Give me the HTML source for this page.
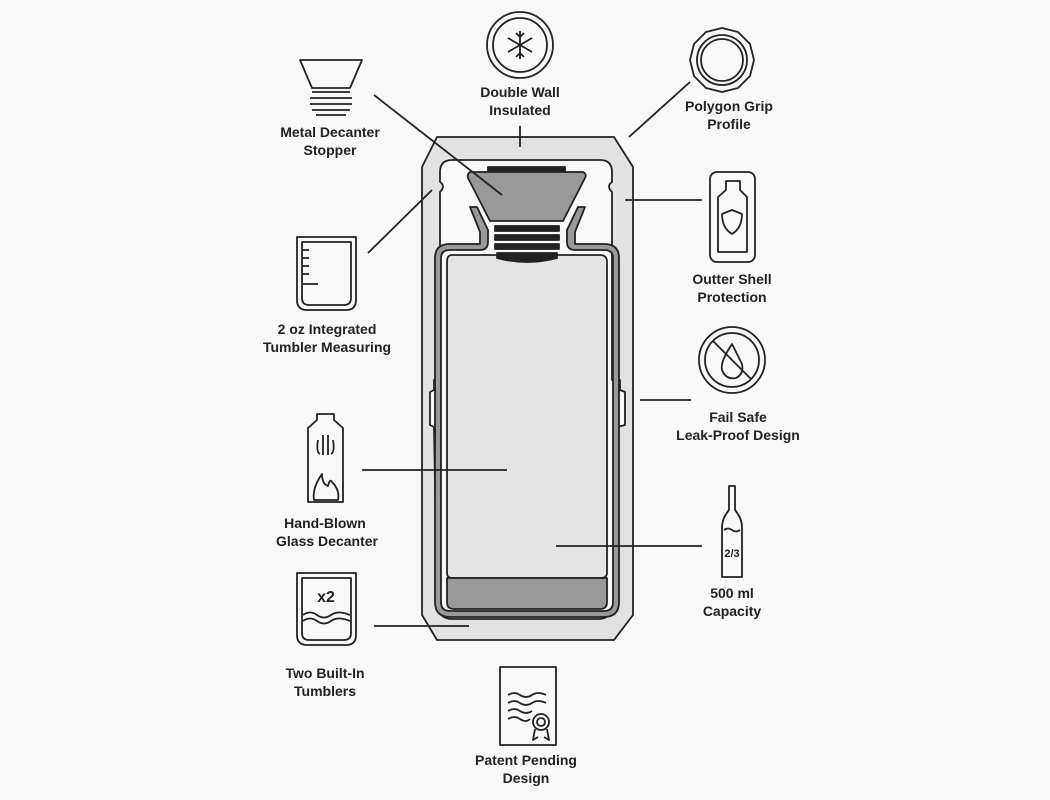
<!DOCTYPE html>
<html><head><meta charset="utf-8"><style>
html,body{margin:0;padding:0;background:#f8f8f8;}
svg{display:block}
text{font-family:"Liberation Sans",sans-serif;font-weight:bold;font-size:14px;fill:#222;text-anchor:middle}
</style></head><body>
<svg width="1050" height="800" viewBox="0 0 1050 800" xmlns="http://www.w3.org/2000/svg">
<rect width="1050" height="800" fill="#f8f8f8"/>
<g stroke="#222" stroke-width="1.8" fill="none" stroke-linejoin="round">
<path d="M437,137 L614,137 L633,167 L633,615 L614,640 L437,640 L422,615 L422,167 Z" fill="#e2e2e2"/>
<path d="M452,160 L600,160 Q612,160 612,172 L612,182 Q606,186 612,192 L612,380 L620,380 L620,390 L625,392 L625,425 L617,427 L614,600 Q614,619 598,619 L452,619 Q437,619 437,600 L434,427 L430,425 L430,392 L434,390 L434,380 L440,380 L440,192 Q446,186 440,182 L440,172 Q440,160 452,160 Z" fill="#f8f8f8"/>
<path d="M470,207 L477,207 L488,230 L488,242 Q488,250 480,250 L450,250 Q441,250 441,258 L441,602 Q441,611 450,611 L604,611 Q613,611 613,602 L613,258 Q613,250 604,250 L575,250 Q567,250 567,242 L567,230 L578,207 L585,207 L575,232 L575,244 L604,244 Q619,244 619,258 L619,602 Q619,617 604,617 L450,617 Q435,617 435,602 L435,258 Q435,244 450,244 L480,244 L480,232 Z" fill="#999"/>
<path d="M452,255 L600,255 Q607,255 607,262 L607,573 Q607,578 600,578 L452,578 Q447,578 447,573 L447,262 Q447,255 452,255 Z" fill="#e4e4e4"/>
<path d="M447,578 L607,578 L607,602 Q607,609 600,609 L454,609 Q447,609 447,602 Z" fill="#999"/>
<path d="M488,167 L565,167 L565,172 L488,172 Z" fill="#222"/>
<path d="M470,172 L583,172 Q587,174 585,178 L563,221 L490,221 L468,178 Q467,174 470,172 Z" fill="#999"/>
<rect x="495" y="226" width="64" height="5" fill="#222"/>
<rect x="495" y="235" width="64" height="5" fill="#222"/>
<rect x="495" y="244" width="64" height="5" fill="#222"/>
<path d="M497,253 L557,253 L557,258 Q527,266 497,258 Z" fill="#222"/>
<path d="M374,95 L502,195 M520,126 L520,147 M690,82 L629,137 M368,253 L432,190 M625,200 L702,200 M640,400 L691,400 M362,470 L507,470 M556,546 L702,546 M374,626 L469,626"/>

<path d="M300,60 L362,60 L350,88 L312,88 Z"/>
<path d="M312,92 L350,92 M310,98 L352,98 M310,104 L352,104 M312,110 L350,110 M316,115 L346,115"/>
<circle cx="520" cy="45" r="33"/><circle cx="520" cy="45" r="27"/>
<path d="M520,31 L520,59 M508,38 L532,52 M508,52 L532,38 M516,33 L520,37 L524,33 M516,57 L520,53 L524,57"/>
<path d="M722,28 L738,32 L750,44 L754,60 L750,76 L738,88 L722,92 L706,88 L694,76 L690,60 L694,44 L706,32 Z"/>
<circle cx="722" cy="60" r="25"/><circle cx="722" cy="60" r="21"/>
<path d="M297,237 L356,237 L356,300 Q356,310 346,310 L307,310 Q297,310 297,300 Z"/>
<path d="M302,242 L351,242 L351,298 Q351,305 344,305 L309,305 Q302,305 302,298 Z"/>
<path d="M303,250 L309,250 M303,258 L309,258 M303,266 L309,266 M303,274 L309,274 M303,284 L318,284"/>
<rect x="710" y="172" width="45" height="90" rx="7"/>
<path d="M726,181 L740,181 L740,190 L747,197 L747,252 L718,252 L718,197 L726,190 Z"/>
<path d="M732,210 L742,214 Q742,228 732,234 Q722,228 722,214 Z"/>
<circle cx="732" cy="360" r="33"/><circle cx="732" cy="360" r="27"/>
<path d="M713,341 L751,379"/>
<path d="M732,344 Q720,362 722,370 Q726,380 736,378 Q744,374 742,364 Q738,356 732,344 Z"/>
<path d="M317,414 L334,414 L334,420 L343,428 L343,502 L308,502 L308,428 L317,420 Z"/>
<path d="M323,435 L323,455 M328,435 L328,455 M318,440 Q316,452 320,454 M333,440 Q335,452 331,454"/>
<path d="M314,500 Q312,488 322,474 Q322,484 328,486 Q330,478 332,482 Q340,490 338,500 Z"/>
<path d="M729,486 L735,486 L735,510 Q742,518 742,528 L742,577 L722,577 L722,528 Q722,518 729,510 Z"/>
<path d="M724,530 Q728,527 732,530 Q736,533 740,530"/>
<path d="M297,573 L356,573 L356,635 Q356,645 346,645 L307,645 Q297,645 297,635 Z"/>
<path d="M302,578 L351,578 L351,633 Q351,640 344,640 L309,640 Q302,640 302,633 Z"/>
<path d="M303,615 Q310,610 317,615 Q324,620 331,615 Q338,610 350,615 M303,621 Q310,616 317,621 Q324,626 331,621 Q338,616 350,621"/>
<path d="M500,667 L556,667 L556,745 L500,745 Z"/>
<path d="M508,695 Q514,691 520,695 Q526,699 532,695 Q538,691 546,695 M508,703 Q514,699 520,703 Q526,707 532,703 Q538,699 546,703 M508,711 Q514,707 520,711 Q526,715 532,711 M508,719 Q514,715 520,719 Q526,723 530,719"/>
<circle cx="541" cy="722" r="8" fill="#f8f8f8"/><circle cx="541" cy="722" r="4"/>
<path d="M535,729 L533,740 L538,737 M547,729 L549,740 L544,737"/>
</g>
<text x="330" y="137">Metal Decanter</text><text x="330" y="155">Stopper</text>
<text x="520" y="97">Double Wall</text><text x="520" y="115">Insulated</text>
<text x="729" y="111">Polygon Grip</text><text x="729" y="129">Profile</text>
<text x="327" y="334">2 oz Integrated</text><text x="327" y="352">Tumbler Measuring</text>
<text x="732" y="284">Outter Shell</text><text x="732" y="302">Protection</text>
<text x="738" y="422">Fail Safe</text><text x="738" y="440">Leak-Proof Design</text>
<text x="325" y="528">Hand-Blown</text><text x="327" y="546">Glass Decanter</text>
<text x="732" y="598">500 ml</text><text x="732" y="616">Capacity</text>
<text x="325" y="678">Two Built-In</text><text x="325" y="696">Tumblers</text>
<text x="526" y="765">Patent Pending</text><text x="526" y="783">Design</text>
<text x="326" y="602" style="font-size:16px">x2</text>
<text x="732" y="557" style="font-size:11px">2/3</text>
</svg>
</body></html>
